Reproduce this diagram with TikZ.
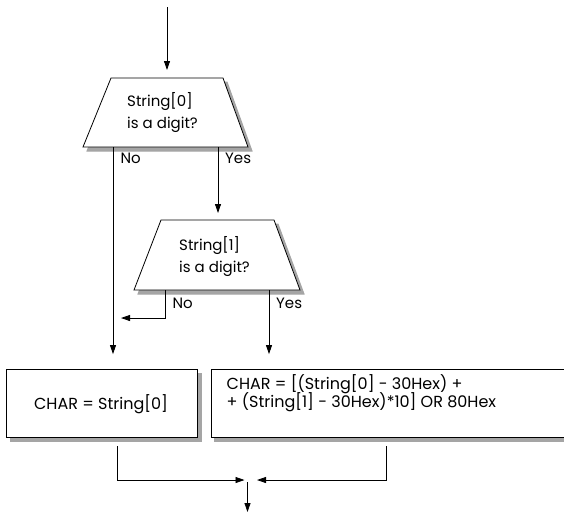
\documentclass[tikz,border=0pt]{standalone}
\usepackage{fontspec}
\setmainfont{Poppins}
\usetikzlibrary{arrows.meta,calc}
\definecolor{shadowgray}{RGB}{165,165,165}
\newcommand{\mytightlines}{\lineskiplimit=-30pt\relax}
\begin{document}
\begin{tikzpicture}[x=1pt,y=-1pt,
  ln/.style={line width=0.8pt},
  arr/.style={ln,-{Triangle[length=9pt,width=6pt]}},
  shad/.style={draw=shadowgray,fill=shadowgray,line width=1pt},
  trtxt/.style={font={\fontsize{15}{22}\selectfont\mytightlines},align=left,inner sep=0pt},
  bxtxt/.style={font={\fontsize{16}{18}\selectfont\mytightlines},inner sep=0pt},
  lbl/.style={font=\fontsize{15}{15}\selectfont,inner sep=0pt,anchor=west}]
\useasboundingbox (0,0) rectangle (564,515);
% decision 1 corners
\coordinate (t1tl) at (111,78); \coordinate (t1tr) at (223,78);
\coordinate (t1bl) at (83,147); \coordinate (t1br) at (248,147);
% decision 2 corners
\coordinate (t2tl) at (161,220); \coordinate (t2tr) at (274,220);
\coordinate (t2bl) at (134,290); \coordinate (t2br) at (300,290);
% shadows
\path[shad] (115,82) -- (227,82) -- (252,151) -- (87,151) -- cycle;
\path[shad] (165,224) -- (278,224) -- (304,294) -- (138,294) -- cycle;
\path[shad] (10.5,373.5) rectangle (201,441);
\path[shad] (214,373.5) rectangle (570,441);
% shapes
\draw[ln,fill=white] (t1tl) -- (t1tr) -- (t1br) -- (t1bl) -- cycle;
\draw[ln,fill=white] (t2tl) -- (t2tr) -- (t2br) -- (t2bl) -- cycle;
\node[draw,ln,fill=white,inner sep=0pt,minimum width=190.5pt,minimum height=67.5pt] (b1) at (101.75,403.25) {};
\node[draw,ln,fill=white,inner sep=0pt,minimum width=356pt,minimum height=67.5pt] (b2) at (389,403.25) {};
% texts
\node[trtxt,anchor=north west] (t1txt) at (127,92) {String[0]\\is a digit?};
\node[trtxt,anchor=north west] (t2txt) at (179,236) {String[1]\\is a digit?};
\node[bxtxt] (b1txt) at (101,404) {CHAR = String[0]};
\node[bxtxt,align=left,anchor=north west] (b2txt) at (226.5,374) {CHAR = [(String[0] - 30Hex) +\\+ (String[1] - 30Hex)*10] OR 80Hex};
% labels
\node[lbl] (no1) at (120.5,158) {No};
\node[lbl] (yes1) at (225,158) {Yes};
\node[lbl] (no2) at (172.5,303) {No};
\node[lbl] (yes2) at (276,303) {Yes};
% connectors
\coordinate (start) at (167,7);
\coordinate (t1no) at (113,147);
\coordinate (t1yes) at (218,147);
\coordinate (t2no) at (165,290);
\coordinate (t2yes) at (269,290);
\coordinate (noend) at (121,318);
\coordinate (m1) at (117,446);
\coordinate (m2) at (386.7,446);
\coordinate (mid) at (247.5,480);
\coordinate (endpt) at (247.5,512);
\draw[arr,shorten >=8pt] (start) -- (start |- t1tl);
\draw[arr,shorten >=7pt] (t1yes) -- (t1yes |- t2tl);
\draw[arr,shorten >=15pt] (t1no) -- (t1no |- b1.north);
\draw[arr] (t2no) |- (noend);
\draw[arr,shorten >=15pt] (t2yes) -- (t2yes |- b2.north);
\draw[arr,shorten >=3pt] (m1) |- (mid);
\draw[arr,shorten >=9.5pt] (m2) |- (mid);
\draw[arr,shorten <=2pt] (mid) -- (endpt);
\end{tikzpicture}
\end{document}
